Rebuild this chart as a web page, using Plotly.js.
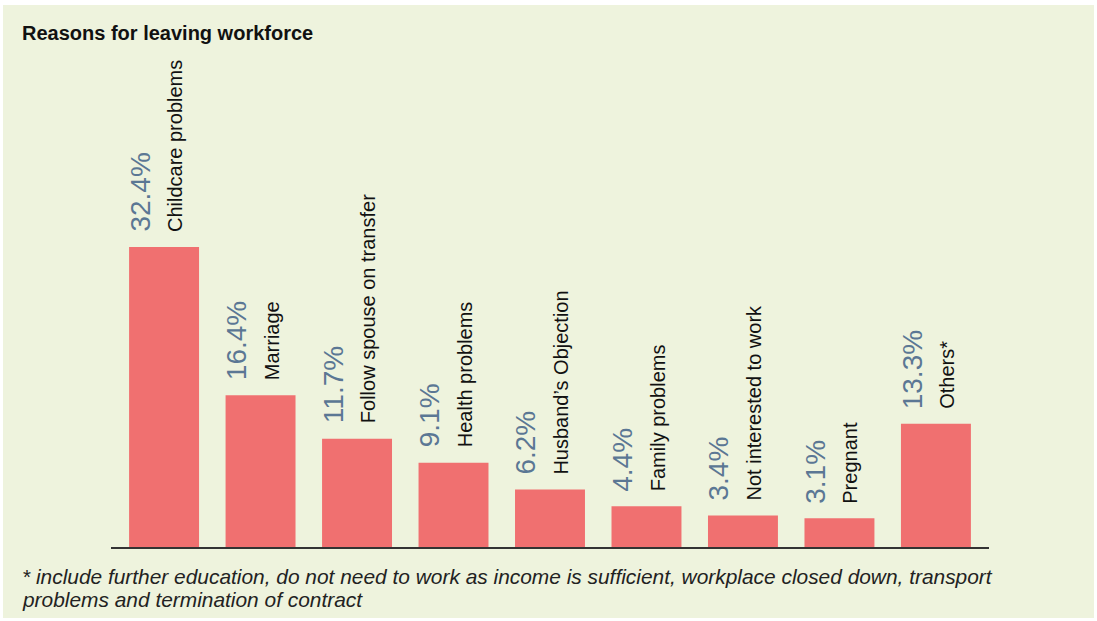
<!DOCTYPE html>
<html>
<head>
<meta charset="utf-8">
<script src="https://cdn.plot.ly/plotly-3.0.1.min.js"></script>
<style>
  html, body { margin: 0; padding: 0; background: #ffffff; }
  #chart { position: absolute; left: 3px; top: 5px; width: 1091px; height: 613px; }
</style>
</head>
<body>
<div id="chart"></div>
<script>
const categories = ["Childcare problems", "Marriage", "Follow spouse on transfer", "Health problems",
  "Husband\u2019s Objection", "Family problems", "Not interested to work", "Pregnant", "Others*"];
const values = [32.4, 16.4, 11.7, 9.1, 6.2, 4.4, 3.4, 3.1, 13.3];
const valueLabels = ["32.4%", "16.4%", "11.7%", "9.1%", "6.2%", "4.4%", "3.4%", "3.1%", "13.3%"];
const chartTitle = "Reasons for leaving workforce";
const footnoteLines = [
  "* include further education, do not need to work as income is sufficient, workplace closed down, transport",
  "problems and termination of contract"
];

const W = 1091, H = 613;
const M = { l: 108, r: 105, t: 55, b: 71 };
const plotW = W - M.l - M.r, plotH = H - M.t - M.b;

const fam = "Liberation Sans, Arial, sans-serif";
const idx = categories.map((c, i) => i);

const annotations = [];
idx.forEach(i => {
  annotations.push({
    x: i, y: values[i], xref: 'x', yref: 'y',
    text: valueLabels[i], showarrow: false, textangle: -90,
    xanchor: 'center', yanchor: 'bottom', xshift: -24, yshift: 13,
    font: { family: fam, size: 28, color: '#5b7794' }
  });
  annotations.push({
    x: i, y: values[i], xref: 'x', yref: 'y',
    text: categories[i], showarrow: false, textangle: -90,
    xanchor: 'center', yanchor: 'bottom', xshift: 11, yshift: 13,
    font: { family: fam, size: 20, color: '#111111' }
  });
});
const footY = [571, 594];
footnoteLines.forEach((line, k) => {
  annotations.push({
    x: (17 - M.l) / plotW, y: (H - M.b - footY[k]) / plotH, xref: 'paper', yref: 'paper',
    xanchor: 'left', yanchor: 'middle', align: 'left', showarrow: false,
    text: '<i>' + line + '</i>',
    font: { family: fam, size: 20.9, color: '#222222' }
  });
});

const trace = {
  type: 'bar', x: idx, y: values, width: 0.725,
  marker: { color: '#f07070' }, hoverinfo: 'skip', showlegend: false
};

const layout = {
  width: W, height: H,
  margin: M,
  paper_bgcolor: '#eef3dd', plot_bgcolor: 'rgba(0,0,0,0)',
  title: {
    text: '<b>' + chartTitle + '</b>', xref: 'container', yref: 'container',
    x: 19 / W, xanchor: 'left', y: 1 - 28 / H, yanchor: 'middle',
    font: { family: fam, size: 20, color: '#111111' }
  },
  xaxis: {
    range: [-0.55, 8.55], showline: true, linecolor: '#333333', linewidth: 1.5,
    showgrid: false, zeroline: false, showticklabels: false, ticks: '', fixedrange: true
  },
  yaxis: {
    range: [0, plotH / 9.26], visible: false, showgrid: false, zeroline: false, fixedrange: true
  },
  annotations: annotations
};

Plotly.newPlot('chart', [trace], layout, { displayModeBar: false, staticPlot: true });
</script>
</body>
</html>
